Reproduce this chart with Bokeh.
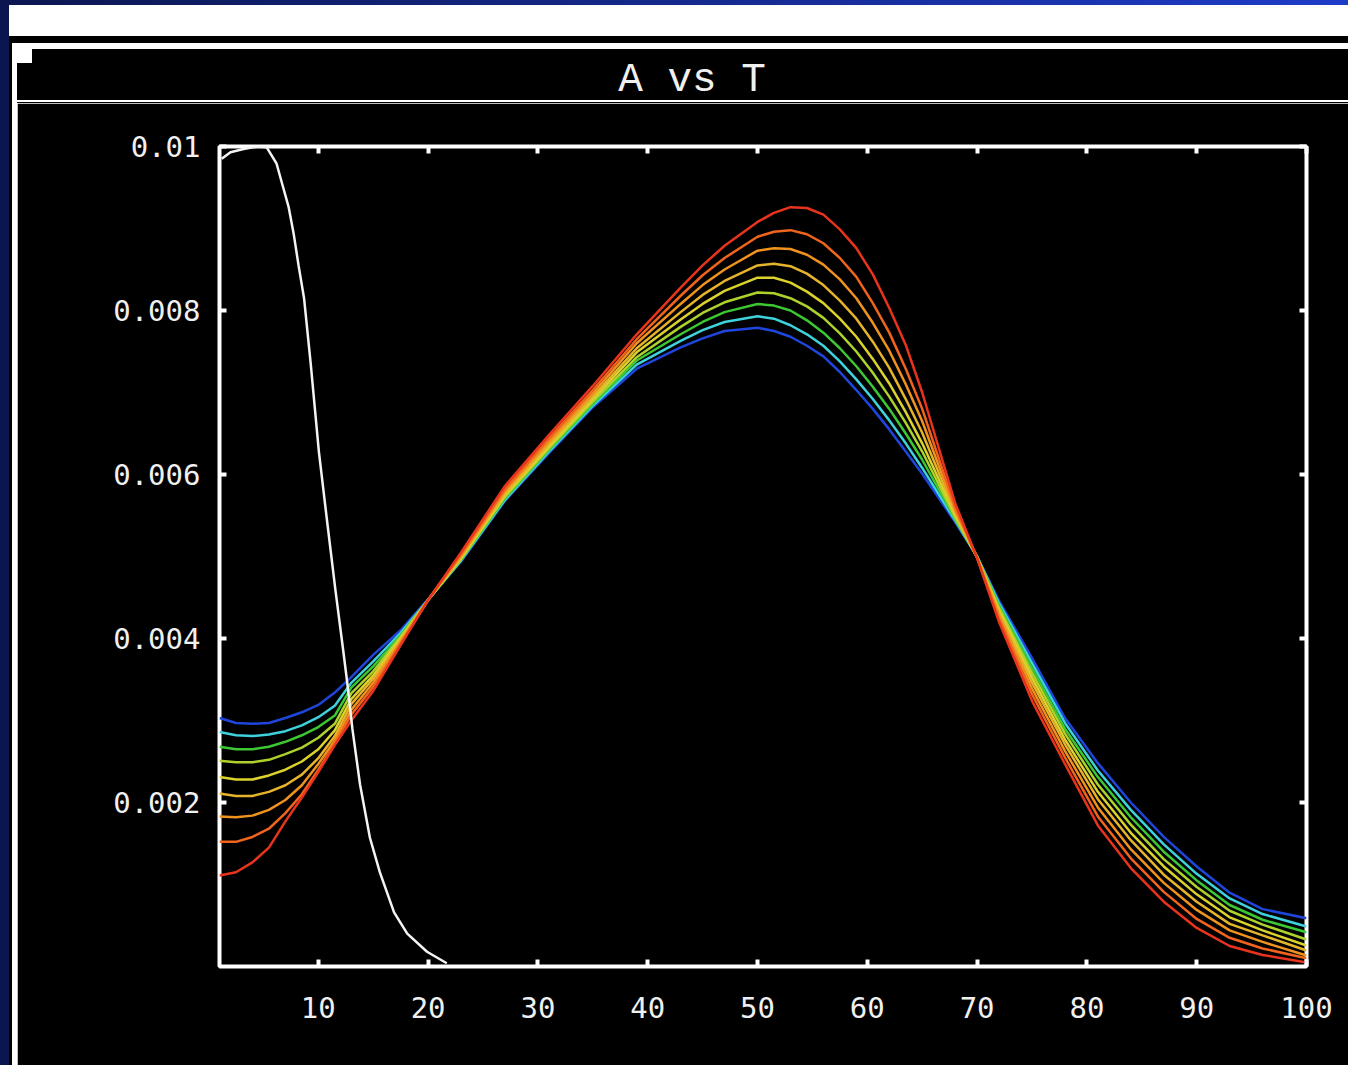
from bokeh.plotting import figure
from bokeh.models import Range1d, LinearAxis, FixedTicker, Div
from bokeh.layouts import column, row
from bokeh.embed import file_html
from bokeh.resources import INLINE

# ---------------- data ----------------
T = [1, 2.5, 4, 5.5, 7, 8.5, 10, 11.5, 13, 15, 17.5, 20, 23, 27, 31, 35, 39, 43, 45, 47, 50,
     51.5, 53, 54.5, 56, 57.5, 59, 60.5, 62, 63.5, 65, 68, 70, 72, 75, 78, 81, 84, 87, 90, 93, 96, 100]

A_red = [.00111, .00115, .00127, .00145, .00177, .00206, .00237, .00270, .00300, .00336, .00392, .00447,
         .00505, .00586, .00648, .00708, .00771, .00828, .00855, .00879, .00908,
         .00919, .00926, .00925, .00917, .00899, .00876, .00844, .00803, .00758, .00700,
         .00565, .00498, .00420, .00324, .00247, .00172, .00120, .00079, .00047, .00025, .00014, .00005]
A_orange_red = [.00152, .00152, .00158, .00168, .00187, .00210, .00240, .00272, .00307, .00341, .00394, .00447,
                .00503, .00582, .00644, .00703, .00765, .00818, .00843, .00864, .00890,
                .00896, .00898, .00893, .00882, .00864, .00841, .00809, .00773, .00729, .00680,
                .00560, .00498, .00424, .00332, .00255, .00183, .00132, .00091, .00058, .00035, .00022, .00010]
A_orange = [.00183, .00182, .00184, .00191, .00203, .00221, .00247, .00276, .00313, .00346, .00396, .00447,
            .00501, .00580, .00640, .00699, .00760, .00808, .00831, .00850, .00873,
            .00876, .00875, .00868, .00856, .00838, .00815, .00785, .00751, .00710, .00665,
            .00557, .00499, .00428, .00339, .00263, .00194, .00143, .00102, .00069, .00044, .00030, .000134]
A_yellow_orange = [.00211, .00208, .00208, .00213, .00221, .00234, .00254, .00281, .00320, .00351, .00398, .00447,
                   .00500, .00577, .00637, .00695, .00754, .00798, .00819, .00836, .00855,
                   .00857, .00854, .00845, .00831, .00812, .00790, .00762, .00730, .00692, .00651,
                   .00554, .00499, .00431, .00346, .00271, .00204, .00154, .00112, .00079, .00052, .00038, .000195]
A_yellow = [.00231, .00228, .00228, .00233, .00240, .00250, .00265, .00288, .00326, .00355, .00400, .00447,
            .00498, .00575, .00634, .00692, .00749, .00789, .00808, .00824, .00840,
            .00840, .00834, .00823, .00809, .00790, .00768, .00741, .00711, .00676, .00638,
            .00551, .00499, .00434, .00352, .00277, .00213, .00163, .00122, .00088, .00060, .00044, .000256]
A_yellow_green = [.00251, .00249, .00249, .00252, .00259, .00267, .00279, .00296, .00333, .00360, .00402, .00447,
                  .00497, .00573, .00632, .00689, .00743, .00780, .00797, .00810, .00822,
                  .00821, .00815, .00805, .00791, .00772, .00750, .00724, .00695, .00663, .00628,
                  .00548, .00499, .00437, .00358, .00284, .00222, .00173, .00131, .00097, .00068, .00051, .000329]
A_green = [.00268, .00265, .00265, .00268, .00274, .00282, .00292, .00306, .00340, .00366, .00404, .00447,
           .00496, .00571, .00630, .00686, .00739, .00771, .00786, .00798, .00808,
           .00806, .00800, .00788, .00773, .00754, .00732, .00707, .00680, .00650, .00618,
           .00546, .00500, .00440, .00364, .00290, .00231, .00182, .00140, .00105, .00075, .00057, .000418]
A_cyan = [.00286, .00282, .00281, .00283, .00287, .00294, .00304, .00318, .00346, .00372, .00407, .00447,
          .00495, .00569, .00628, .00684, .00734, .00763, .00776, .00786, .00793,
          .00790, .00782, .00771, .00757, .00738, .00716, .00692, .00666, .00638, .00608,
          .00544, .00500, .00443, .00370, .00297, .00239, .00191, .00149, .00113, .00083, .00064, .000488]
A_blue = [.00303, .00297, .00296, .00297, .00303, .00310, .00319, .00334, .00353, .00380, .00410, .00448,
          .00494, .00568, .00626, .00682, .00729, .00755, .00766, .00775, .00779,
          .00775, .00768, .00757, .00744, .00725, .00703, .00680, .00655, .00628, .00601,
          .00542, .00500, .00446, .00376, .00303, .00248, .00200, .00158, .00122, .00090, .00070, .000589]

W_T = [1.2, 2, 3.2, 4.5, 5.3, 6.2, 6.8, 7.3, 7.75, 8.2, 8.7, 9.3, 10.05, 10.8, 11.55, 12.3, 12.7,
       13.1, 13.8, 14.7, 15.6, 16.9, 18.1, 19.9, 21.7]
W_A = [.00985, .00993, .00997, .01000, .00999, .00979, .00950, .00926, .00894, .00855, .00815, .00736,
       .00628, .00543, .00460, .00382, .00339, .00290, .00222, .00157, .00115, .00066, .00040, .00018, .00004]

SERIES = [A_blue, A_cyan, A_green, A_yellow_green, A_yellow, A_yellow_orange, A_orange, A_orange_red, A_red]
COLORS = ["#1f46dc", "#3ed2dc", "#3cc832", "#aed22c", "#dcd22c", "#e6b42a", "#f0921e", "#f0641e", "#e8341c"]

TITLE = "A vs T"
X_TICKS = [10, 20, 30, 40, 50, 60, 70, 80, 90, 100]
Y_TICKS = [0.002, 0.004, 0.006, 0.008, 0.01]
Y_LABELS = ["0.002", "0.004", "0.006", "0.008", "0.01"]

NAVY = "#0b1650"
FONT = "DejaVu Sans Mono"

# ---------------- chrome ----------------
top_html = f"""
<div style="position:relative;width:1348px;height:103px;background:#000;overflow:hidden">
 <div style="position:absolute;left:0;top:0;width:1348px;height:5px;background:linear-gradient(to right,{NAVY},#1e3cc8)"></div>
 <div style="position:absolute;left:0;top:5px;width:9px;height:98px;background:{NAVY}"></div>
 <div style="position:absolute;left:9px;top:5px;width:1339px;height:31px;background:#fff"></div>
 <div style="position:absolute;left:12px;top:43px;width:1336px;height:6px;background:#fff"></div>
 <div style="position:absolute;left:12px;top:43px;width:5px;height:60px;background:#fff"></div>
 <div style="position:absolute;left:17px;top:49px;width:15px;height:14px;background:#fff"></div>
 <div style="position:absolute;left:17px;top:100px;width:1331px;height:2px;background:#fff"></div>
 <div style="position:absolute;left:17px;top:57px;width:1331px;height:46px;line-height:46px;text-align:center;
      padding-left:19px;box-sizing:border-box;color:#f0f0f0;font-family:'Liberation Mono';font-size:41px;white-space:pre">{TITLE}</div>
</div>
"""
left_html = f"""
<div style="position:relative;width:17px;height:962px;background:#000;overflow:hidden">
 <div style="position:absolute;left:0;top:0;width:9px;height:962px;background:{NAVY}"></div>
 <div style="position:absolute;left:12px;top:0;width:5px;height:962px;background:#fff"></div>
</div>
"""
top = Div(text=top_html, width=1348, height=103, margin=0, styles={"overflow": "hidden"})
left = Div(text=left_html, width=17, height=962, margin=0, styles={"overflow": "hidden"})

# ---------------- plot ----------------
p = figure(width=1331, height=962, x_range=Range1d(1, 100), y_range=Range1d(0, 0.01),
           output_backend="svg", toolbar_location=None,
           x_axis_location=None, y_axis_location=None,
           min_border_left=202, min_border_right=42, min_border_top=43, min_border_bottom=99,
           background_fill_color="black", border_fill_color="black",
           outline_line_color="white", outline_line_width=4)
p.grid.visible = False


def style_axis(ax, labels=True):
    ax.axis_line_color = None
    ax.major_tick_in = 7
    ax.major_tick_out = 0
    ax.major_tick_line_color = "white"
    ax.major_tick_line_width = 4
    ax.minor_tick_line_color = None
    if labels:
        ax.major_label_text_color = "#f0f0f0"
        ax.major_label_text_font = FONT
        ax.major_label_text_font_size = "29px"
    else:
        ax.major_label_text_color = None
        ax.major_label_text_font_size = "1px"
        ax.major_label_standoff = 0


xb = LinearAxis(ticker=FixedTicker(ticks=X_TICKS))
style_axis(xb)
xb.major_label_standoff = 30
p.add_layout(xb, "below")

yl = LinearAxis(ticker=FixedTicker(ticks=Y_TICKS),
                major_label_overrides={t: s for t, s in zip(Y_TICKS, Y_LABELS)})
style_axis(yl)
yl.major_label_standoff = 19
p.add_layout(yl, "left")

xt = LinearAxis(ticker=FixedTicker(ticks=X_TICKS))
style_axis(xt, labels=False)
p.add_layout(xt, "above")

yr = LinearAxis(ticker=FixedTicker(ticks=Y_TICKS))
style_axis(yr, labels=False)
p.add_layout(yr, "right")

for vals, col in zip(SERIES, COLORS):
    p.line(T, vals, line_color=col, line_width=2.5)
p.line(W_T, W_A, line_color="#f4f4f4", line_width=2.5)

layout = column(top, row(left, p, spacing=0), spacing=0)
open("out.html", "w").write(file_html(layout, INLINE))
